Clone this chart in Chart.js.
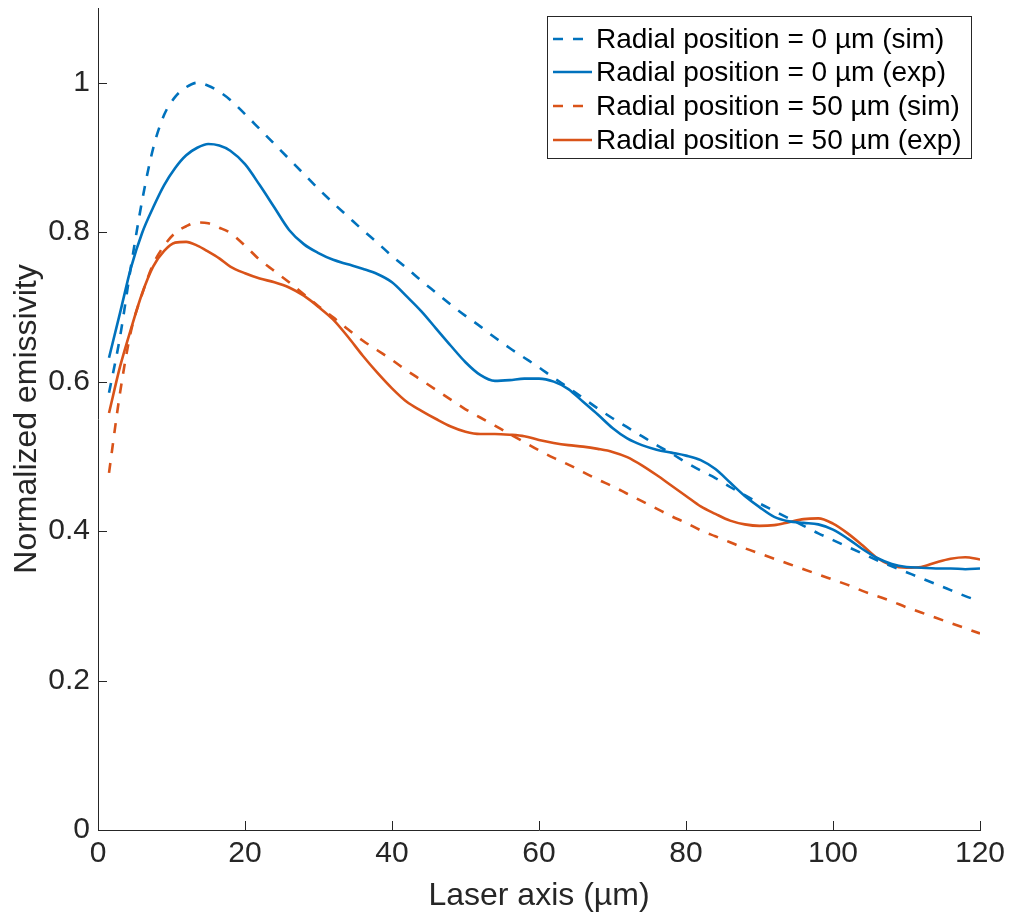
<!DOCTYPE html>
<html>
<head>
<meta charset="utf-8">
<script src="https://cdn.jsdelivr.net/npm/chart.js@4"></script>
<style>
  html, body { margin:0; padding:0; background:#fff; }
  #wrap { width:1013px; height:920px; position:relative; }
</style>
</head>
<body>
<div id="wrap"><canvas id="chart" width="1013" height="920"></canvas></div>
<script>
// x positions along the laser axis (µm)
const xs = [1.5,3,4.5,6,7.5,9,10.5,12,13.5,15,16.5,18,20,22,24,26,28,30,32,34,36,38,40,42,44,46,48,50,52,54,56,58,60,62,64,66,68,70,72,74,76,78,80,82,84,86,88,90,92,94,96,98,100,102,104,106,108,110,112,114,116,118,120]

const sim0 = [0.585,0.66,0.755,0.842,0.912,0.957,0.981,0.994,1.0,0.996,0.988,0.977,0.958,0.938,0.918,0.898,0.878,0.858,0.839,0.821,0.803,0.786,0.768,0.752,0.735,0.719,0.703,0.688,0.674,0.659,0.645,0.632,0.619,0.605,0.592,0.578,0.564,0.551,0.539,0.527,0.515,0.504,0.492,0.481,0.471,0.459,0.448,0.437,0.427,0.417,0.407,0.397,0.388,0.379,0.370,0.361,0.353,0.345,0.337,0.329,0.321,0.313,0.306]
const exp0 = [0.632,0.692,0.753,0.799,0.833,0.863,0.886,0.903,0.913,0.918,0.916,0.909,0.891,0.863,0.833,0.803,0.784,0.772,0.763,0.757,0.751,0.744,0.733,0.714,0.694,0.671,0.648,0.626,0.609,0.601,0.602,0.604,0.604,0.600,0.590,0.573,0.556,0.538,0.524,0.515,0.509,0.505,0.501,0.495,0.483,0.465,0.447,0.432,0.419,0.413,0.411,0.409,0.402,0.390,0.376,0.364,0.356,0.352,0.351,0.350,0.350,0.349,0.350]
const sim50 = [0.478,0.585,0.668,0.717,0.757,0.782,0.799,0.808,0.813,0.812,0.806,0.799,0.782,0.763,0.748,0.733,0.717,0.701,0.686,0.670,0.655,0.642,0.629,0.615,0.602,0.589,0.576,0.563,0.552,0.541,0.530,0.519,0.508,0.498,0.489,0.479,0.469,0.460,0.450,0.440,0.430,0.420,0.411,0.401,0.393,0.385,0.377,0.370,0.363,0.356,0.349,0.342,0.335,0.328,0.320,0.313,0.306,0.298,0.291,0.284,0.277,0.270,0.263]
const exp50 = [0.558,0.620,0.671,0.718,0.754,0.775,0.786,0.787,0.782,0.774,0.765,0.754,0.745,0.738,0.733,0.726,0.715,0.700,0.683,0.660,0.635,0.612,0.591,0.573,0.561,0.550,0.540,0.533,0.530,0.530,0.529,0.527,0.522,0.518,0.515,0.513,0.510,0.506,0.499,0.488,0.475,0.461,0.447,0.433,0.423,0.414,0.409,0.407,0.408,0.412,0.416,0.417,0.410,0.397,0.381,0.364,0.354,0.351,0.352,0.358,0.363,0.365,0.362]

const seriesNames = ['Radial position = 0 µm (sim)','Radial position = 0 µm (exp)','Radial position = 50 µm (sim)','Radial position = 50 µm (exp)']
const xTicks = [0,20,40,60,80,100,120]
const yTicks = [0,0.2,0.4,0.6,0.8,1]

const BLUE = '#0072BD', ORANGE = '#D95319', AX = '#262626'
const FONT = 'Liberation Sans, Arial, Helvetica, sans-serif'

function pts(ys){ return xs.map((x,i)=> ({x, y: ys[i]})) }
function ds(label, ys, color, dashed){
  return {label, data: pts(ys), borderColor: color, borderWidth: 2.6, borderDash: dashed? [10,10]: [],
    pointRadius: 0, fill: false, cubicInterpolationMode: 'monotone'}
}

// inward tick marks + legend box, MATLAB style
const decor = {
  id: 'decor',
  afterDraw(chart){
    const c = chart.ctx, a = chart.chartArea
    const sx = chart.scales.x, sy = chart.scales.y
    c.save()
    c.strokeStyle = AX; c.lineWidth = 1
    c.beginPath()
    xTicks.forEach(v=>{ const p = Math.round(sx.getPixelForValue(v))+0.5; c.moveTo(p, a.bottom); c.lineTo(p, a.bottom-9) })
    yTicks.forEach(v=>{ const p = Math.round(sy.getPixelForValue(v))+0.5; c.moveTo(a.left, p); c.lineTo(a.left+9, p) })
    c.stroke()

    // legend
    const bx = 547, by = 16, bw = 424, bh = 142
    c.fillStyle = '#fff'; c.fillRect(bx, by, bw, bh)
    c.strokeStyle = AX; c.lineWidth = 1; c.strokeRect(bx+0.5, by+0.5, bw, bh)
    const rows = [39, 72, 106, 140]
    chart.data.datasets.forEach((d,i)=>{
      const y = rows[i]
      c.strokeStyle = d.borderColor; c.lineWidth = 2.6; c.setLineDash(d.borderDash)
      c.beginPath(); c.moveTo(553, y); c.lineTo(592, y); c.stroke()
      c.setLineDash([])
      c.fillStyle = '#000'; c.font = '28px ' + FONT; c.textBaseline = 'middle'; c.textAlign = 'left'
      c.fillText(d.label, 596, y+1)
    })
    c.restore()
  }
}

new Chart(document.getElementById('chart'), {
  type: 'line',
  data: { datasets: [
    ds(seriesNames[0], sim0, BLUE, true),
    ds(seriesNames[1], exp0, BLUE, false),
    ds(seriesNames[2], sim50, ORANGE, true),
    ds(seriesNames[3], exp50, ORANGE, false)
  ]},
  options: {
    responsive: false, animation: false, devicePixelRatio: 1,
    layout: { padding: { top: 8, right: 33, left: 0, bottom: 0 } },
    plugins: { legend: { display: false }, tooltip: { enabled: false } },
    scales: {
      x: {
        type: 'linear', min: 0, max: 120,
        grid: { display: false, drawTicks: false },
        border: { display: true, color: AX, width: 1 },
        afterBuildTicks: s => { s.ticks = xTicks.map(v=> ({value: v})) },
        afterFit: s => { s.height = 90; s.paddingLeft = 0; s.paddingRight = 0 },
        ticks: { color: AX, font: { family: FONT, size: 30 }, padding: 6, maxRotation: 0 },
        title: { display: true, text: 'Laser axis (µm)', color: AX, font: { family: FONT, size: 32 }, padding: { top: 0, bottom: 5 } }
      },
      y: {
        type: 'linear', min: 0, max: 1.1,
        grid: { display: false, drawTicks: false },
        border: { display: true, color: AX, width: 1 },
        afterBuildTicks: s => { s.ticks = yTicks.map(v=> ({value: v})) },
        afterFit: s => { s.width = 98; s.paddingTop = 0; s.paddingBottom = 0 },
        ticks: { color: AX, font: { family: FONT, size: 30 }, padding: 8, callback: v => String(Number(v.toFixed(1))) },
        title: { display: true, text: 'Normalized emissivity', color: AX, font: { family: FONT, size: 32 }, padding: { top: 8, bottom: 0 } }
      }
    }
  },
  plugins: [decor]
})
</script>
</body>
</html>
